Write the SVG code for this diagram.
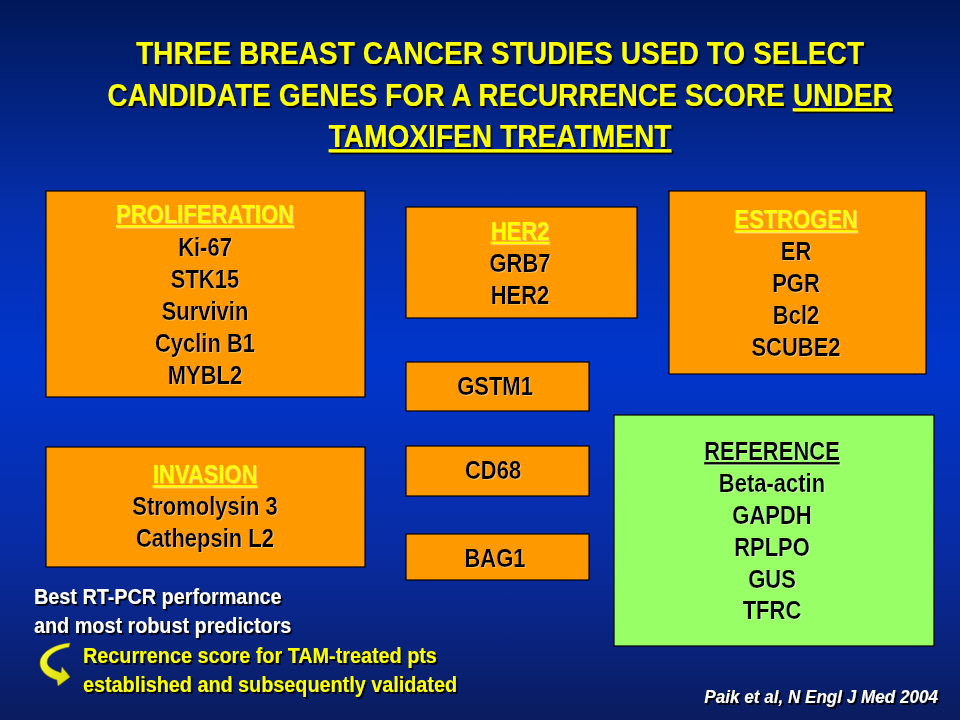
<svg xmlns="http://www.w3.org/2000/svg" width="960" height="720" viewBox="0 0 960 720">
<defs>
<linearGradient id="bg" x1="0" y1="0" x2="0" y2="1">
<stop offset="0" stop-color="#001858"/>
<stop offset="0.3" stop-color="#052fae"/>
<stop offset="0.5" stop-color="#0035cc"/>
<stop offset="0.75" stop-color="#082ca6"/>
<stop offset="1" stop-color="#0a1c5e"/>
</linearGradient>
<linearGradient id="arrowGrad" x1="0" y1="0" x2="1" y2="1">
<stop offset="0" stop-color="#ffff40"/>
<stop offset="1" stop-color="#d8d800"/>
</linearGradient>
<filter id="shDark" x="-5%" y="-20%" width="110%" height="150%">
<feDropShadow dx="2" dy="2" stdDeviation="0.3" flood-color="#000000" flood-opacity="0.9"/>
</filter>
<filter id="shLight" x="-5%" y="-20%" width="110%" height="150%">
<feDropShadow dx="1" dy="1" stdDeviation="0.3" flood-color="#ffffff" flood-opacity="0.35"/>
</filter>
</defs>
<style>
text { font-family: "Liberation Sans", Arial, sans-serif; font-weight: bold; }
.title { font-size: 32px; fill: #ffff00; text-anchor: middle; filter: url(#shDark); }
.box { fill: #ff9900; stroke: #000000; stroke-width: 1.2; }
.ref { fill: #99ff66; stroke: #000000; stroke-width: 1.2; }
.hd { font-size: 25px; fill: #ffff00; text-anchor: middle; text-decoration: underline; filter: url(#shLight); }
.hdk { font-size: 25px; fill: #000000; text-anchor: middle; text-decoration: underline; filter: url(#shLight); }
.it { font-size: 25px; fill: #000000; text-anchor: middle; filter: url(#shLight); }
.wt { font-size: 22.5px; fill: #ffffff; filter: url(#shDark); }
.yt { font-size: 22.5px; fill: #ffff00; filter: url(#shDark); }
.cite { font-size: 18px; fill: #ffffff; font-style: italic; text-anchor: end; filter: url(#shDark); }
</style>
<rect x="0" y="0" width="960" height="720" fill="url(#bg)"/>

<g id="title">
<text class="title" transform="translate(500,64) scale(0.88,1)">THREE BREAST CANCER STUDIES USED TO SELECT</text>
<text class="title" transform="translate(500,106) scale(0.88,1)">CANDIDATE GENES FOR A RECURRENCE SCORE <tspan text-decoration="underline">UNDER</tspan></text>
<text class="title" transform="translate(500,147) scale(0.88,1)" text-decoration="underline">TAMOXIFEN TREATMENT</text>
</g>

<g id="proliferation">
<rect class="box" x="46" y="191" width="319" height="206"/>
<text class="hd" transform="translate(205,223) scale(0.88,1)">PROLIFERATION</text>
<text class="it" transform="translate(205,255.5) scale(0.88,1)">Ki-67</text>
<text class="it" transform="translate(205,287.5) scale(0.88,1)">STK15</text>
<text class="it" transform="translate(205,319.5) scale(0.88,1)">Survivin</text>
<text class="it" transform="translate(205,351.5) scale(0.88,1)">Cyclin B1</text>
<text class="it" transform="translate(205,383.5) scale(0.88,1)">MYBL2</text>
</g>

<g id="her2">
<rect class="box" x="406" y="207" width="231" height="111"/>
<text class="hd" transform="translate(520,239.5) scale(0.88,1)">HER2</text>
<text class="it" transform="translate(520,272) scale(0.88,1)">GRB7</text>
<text class="it" transform="translate(520,304) scale(0.88,1)">HER2</text>
</g>

<g id="estrogen">
<rect class="box" x="669" y="191" width="257" height="183"/>
<text class="hd" transform="translate(796,228) scale(0.88,1)">ESTROGEN</text>
<text class="it" transform="translate(796,260) scale(0.88,1)">ER</text>
<text class="it" transform="translate(796,292) scale(0.88,1)">PGR</text>
<text class="it" transform="translate(796,324) scale(0.88,1)">Bcl2</text>
<text class="it" transform="translate(796,356) scale(0.88,1)">SCUBE2</text>
</g>

<g id="gstm1">
<rect class="box" x="406" y="362" width="183" height="49"/>
<text class="it" transform="translate(495,395) scale(0.88,1)">GSTM1</text>
</g>

<g id="cd68">
<rect class="box" x="406" y="446" width="183" height="50"/>
<text class="it" transform="translate(493,479) scale(0.88,1)">CD68</text>
</g>

<g id="bag1">
<rect class="box" x="406" y="534" width="183" height="46"/>
<text class="it" transform="translate(495,567) scale(0.88,1)">BAG1</text>
</g>

<g id="invasion">
<rect class="box" x="46" y="447" width="319" height="120"/>
<text class="hd" transform="translate(205,483) scale(0.88,1)">INVASION</text>
<text class="it" transform="translate(205,515) scale(0.88,1)">Stromolysin 3</text>
<text class="it" transform="translate(205,547) scale(0.88,1)">Cathepsin L2</text>
</g>

<g id="reference">
<rect class="ref" x="614" y="415" width="320" height="231"/>
<text class="hdk" transform="translate(772,460) scale(0.88,1)">REFERENCE</text>
<text class="it" transform="translate(772,492) scale(0.88,1)">Beta-actin</text>
<text class="it" transform="translate(772,524) scale(0.88,1)">GAPDH</text>
<text class="it" transform="translate(772,556) scale(0.88,1)">RPLPO</text>
<text class="it" transform="translate(772,588) scale(0.88,1)">GUS</text>
<text class="it" transform="translate(772,619) scale(0.88,1)">TFRC</text>
</g>

<g id="notes">
<text class="wt" transform="translate(34,604) scale(0.88,1)">Best RT-PCR performance</text>
<text class="wt" transform="translate(34,633) scale(0.88,1)">and most robust predictors</text>
<text class="yt" transform="translate(83,663) scale(0.88,1)">Recurrence score for TAM-treated pts</text>
<text class="yt" transform="translate(83,692) scale(0.88,1)">established and subsequently validated</text>
</g>

<g id="connectors">
<path d="M70,643 C56,644 40,652 40,663 C40,671 47,677 57,680 L58,686 L70,677 L62,667 L61,673 C53,670 47,667 47,662 C47,655 57,649 69,647 Z" fill="url(#arrowGrad)" stroke="#8a8a00" stroke-width="0.6"/>
</g>

<g id="citation">
<text class="cite" transform="translate(938,703) scale(0.95,1)">Paik et al, N Engl J Med 2004</text>
</g>
</svg>
